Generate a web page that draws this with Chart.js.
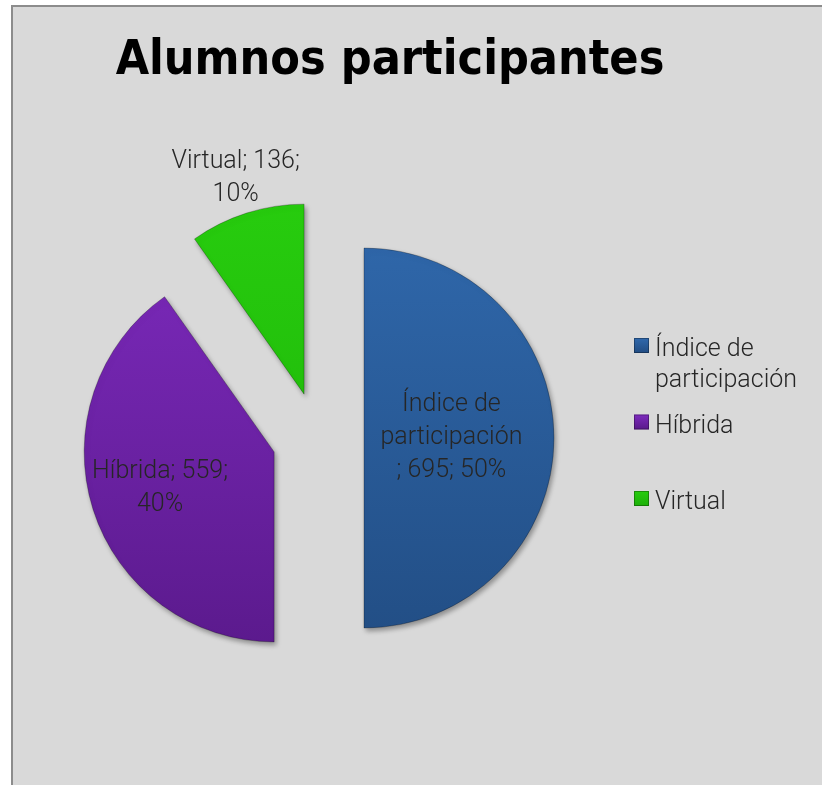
<!DOCTYPE html>
<html>
<head>
<meta charset="utf-8">
<script src="https://cdn.jsdelivr.net/npm/chart.js@4.4.1/dist/chart.umd.min.js"></script>
<style>
  html, body { margin: 0; padding: 0; background: #fff; }
</style>
</head>
<body>
<canvas id="pieChart" width="822" height="785"></canvas>
<script>
const chartTitle = 'Alumnos participantes';
const categories = ['Índice de participación', 'Híbrida', 'Virtual'];
const values = [695, 559, 136];
const colorsTop = ['#3069ad', '#7e2bbf', '#27cc0e'];
const colorsBottom = ['#214c82', '#59198a', '#1caf08'];

// look
const sliceRadius = 190;
const explode = 46;
const labelDist = [0.46, 0.63, 1.19];
const labelWrap = [142, 160, 160];
const labelFont = '300 25px Roboto, "Open Sans", sans-serif';
const legendFont = '300 25px Roboto, "Open Sans", sans-serif';
const titleFont = 'bold 48px "DejaVu Sans Condensed", "Liberation Sans Narrow", sans-serif';

const total = values.reduce((a, b) => a + b, 0);

// greedy wrap; a too-long word ending in ';' leaves the ';' for the next line
function wrapText(ctx, text, maxW) {
    const fits = s => ctx.measureText(s).width <= maxW;
    const lines = [];
    let cur = '';
    text.split(' ').forEach(w => {
        const test = cur ? cur + ' ' + w : w;
        if (fits(test)) { cur = test; return; }
        if (w.endsWith(';')) {
            const bare = w.slice(0, -1);
            const t2 = cur ? cur + ' ' + bare : bare;
            if (fits(t2)) { lines.push(t2); cur = ';'; return; }
        }
        if (cur) lines.push(cur);
        cur = w;
        if (!fits(cur) && cur.endsWith(';')) {
            lines.push(cur.slice(0, -1));
            cur = ';';
        }
    });
    if (cur) lines.push(cur);
    return lines;
}

const backgroundPlugin = {
    id: 'bgBox',
    beforeDraw(chart) {
        const { ctx, width, height } = chart;
        ctx.save();
        ctx.fillStyle = '#ffffff';
        ctx.fillRect(0, 0, width, height);
        ctx.fillStyle = '#d9d9d9';
        ctx.fillRect(12, 6, width, height);
        ctx.strokeStyle = '#8c8c8c';
        ctx.lineWidth = 2;
        ctx.strokeRect(12, 6, width + 20, height + 20);
        ctx.fillStyle = '#000';
        ctx.font = titleFont;
        ctx.textAlign = 'center';
        ctx.textBaseline = 'alphabetic';
        ctx.fillText(chartTitle, 390, 74);
        ctx.restore();
    }
};

// pull every slice out along its middle angle
const explodePlugin = {
    id: 'explode',
    afterUpdate(chart) {
        chart.getDatasetMeta(0).data.forEach(arc => {
            const mid = (arc.startAngle + arc.endAngle) / 2;
            arc.x += Math.cos(mid) * explode;
            arc.y += Math.sin(mid) * explode;
        });
    },
    beforeDatasetsDraw(chart) {
        const ctx = chart.ctx;
        ctx.save();
        ctx.shadowColor = 'rgba(0,0,0,0.35)';
        ctx.shadowBlur = 5;
        ctx.shadowOffsetX = 2;
        ctx.shadowOffsetY = 3;
    },
    afterDatasetsDraw(chart) {
        chart.ctx.restore();
    }
};

const labelsPlugin = {
    id: 'sliceLabels',
    afterDraw(chart) {
        const ctx = chart.ctx;
        ctx.save();
        ctx.font = labelFont;
        ctx.fillStyle = '#262626';
        ctx.textAlign = 'center';
        ctx.textBaseline = 'middle';
        chart.getDatasetMeta(0).data.forEach((arc, i) => {
            const mid = (arc.startAngle + arc.endAngle) / 2;
            const r = arc.outerRadius * labelDist[i];
            const x = arc.x + Math.cos(mid) * r;
            const y = arc.y + Math.sin(mid) * r;
            const pct = Math.round(values[i] / total * 100);
            const lines = wrapText(ctx, categories[i] + '; ' + values[i] + '; ' + pct + '%', labelWrap[i]);
            const lh = 33;
            lines.forEach((ln, k) => {
                ctx.fillText(ln, x, y + (k - (lines.length - 1) / 2) * lh);
            });
        });

        // legend
        ctx.font = legendFont;
        ctx.textAlign = 'left';
        ctx.textBaseline = 'alphabetic';
        const lx = 634, tx = 655, firstBase = 356, step = 76.5;
        categories.forEach((c, i) => {
            const base = firstBase + i * step;
            const g = ctx.createLinearGradient(0, base - 18, 0, base - 3);
            g.addColorStop(0, colorsTop[i]);
            g.addColorStop(1, colorsBottom[i]);
            ctx.fillStyle = g;
            ctx.fillRect(lx, base - 18, 15, 15);
            ctx.strokeStyle = 'rgba(0,0,0,0.3)';
            ctx.lineWidth = 1;
            ctx.strokeRect(lx + 0.5, base - 17.5, 14, 14);
            ctx.fillStyle = '#262626';
            wrapText(ctx, c, 150).forEach((ln, k) => ctx.fillText(ln, tx, base + k * 31));
        });
        ctx.restore();
    }
};

function sliceFill(context) {
    const chart = context.chart;
    const area = chart.chartArea;
    const i = context.dataIndex;
    if (!area) return colorsTop[i];
    const cy = (area.top + area.bottom) / 2;
    const g = chart.ctx.createLinearGradient(0, cy - sliceRadius - explode, 0, cy + sliceRadius + explode);
    g.addColorStop(0, colorsTop[i]);
    g.addColorStop(1, colorsBottom[i]);
    return g;
}

new Chart(document.getElementById('pieChart'), {
    type: 'pie',
    data: {
        labels: categories,
        datasets: [{
            data: values,
            backgroundColor: sliceFill,
            borderColor: 'rgba(0,0,0,0.25)',
            borderWidth: 1
        }]
    },
    options: {
        responsive: false,
        animation: false,
        radius: sliceRadius,
        layout: { padding: { left: 0, right: 186, top: 91, bottom: 0 } },
        plugins: {
            legend: { display: false },
            title: { display: false },
            tooltip: { enabled: false }
        }
    },
    plugins: [backgroundPlugin, explodePlugin, labelsPlugin]
});
</script>
</body>
</html>
